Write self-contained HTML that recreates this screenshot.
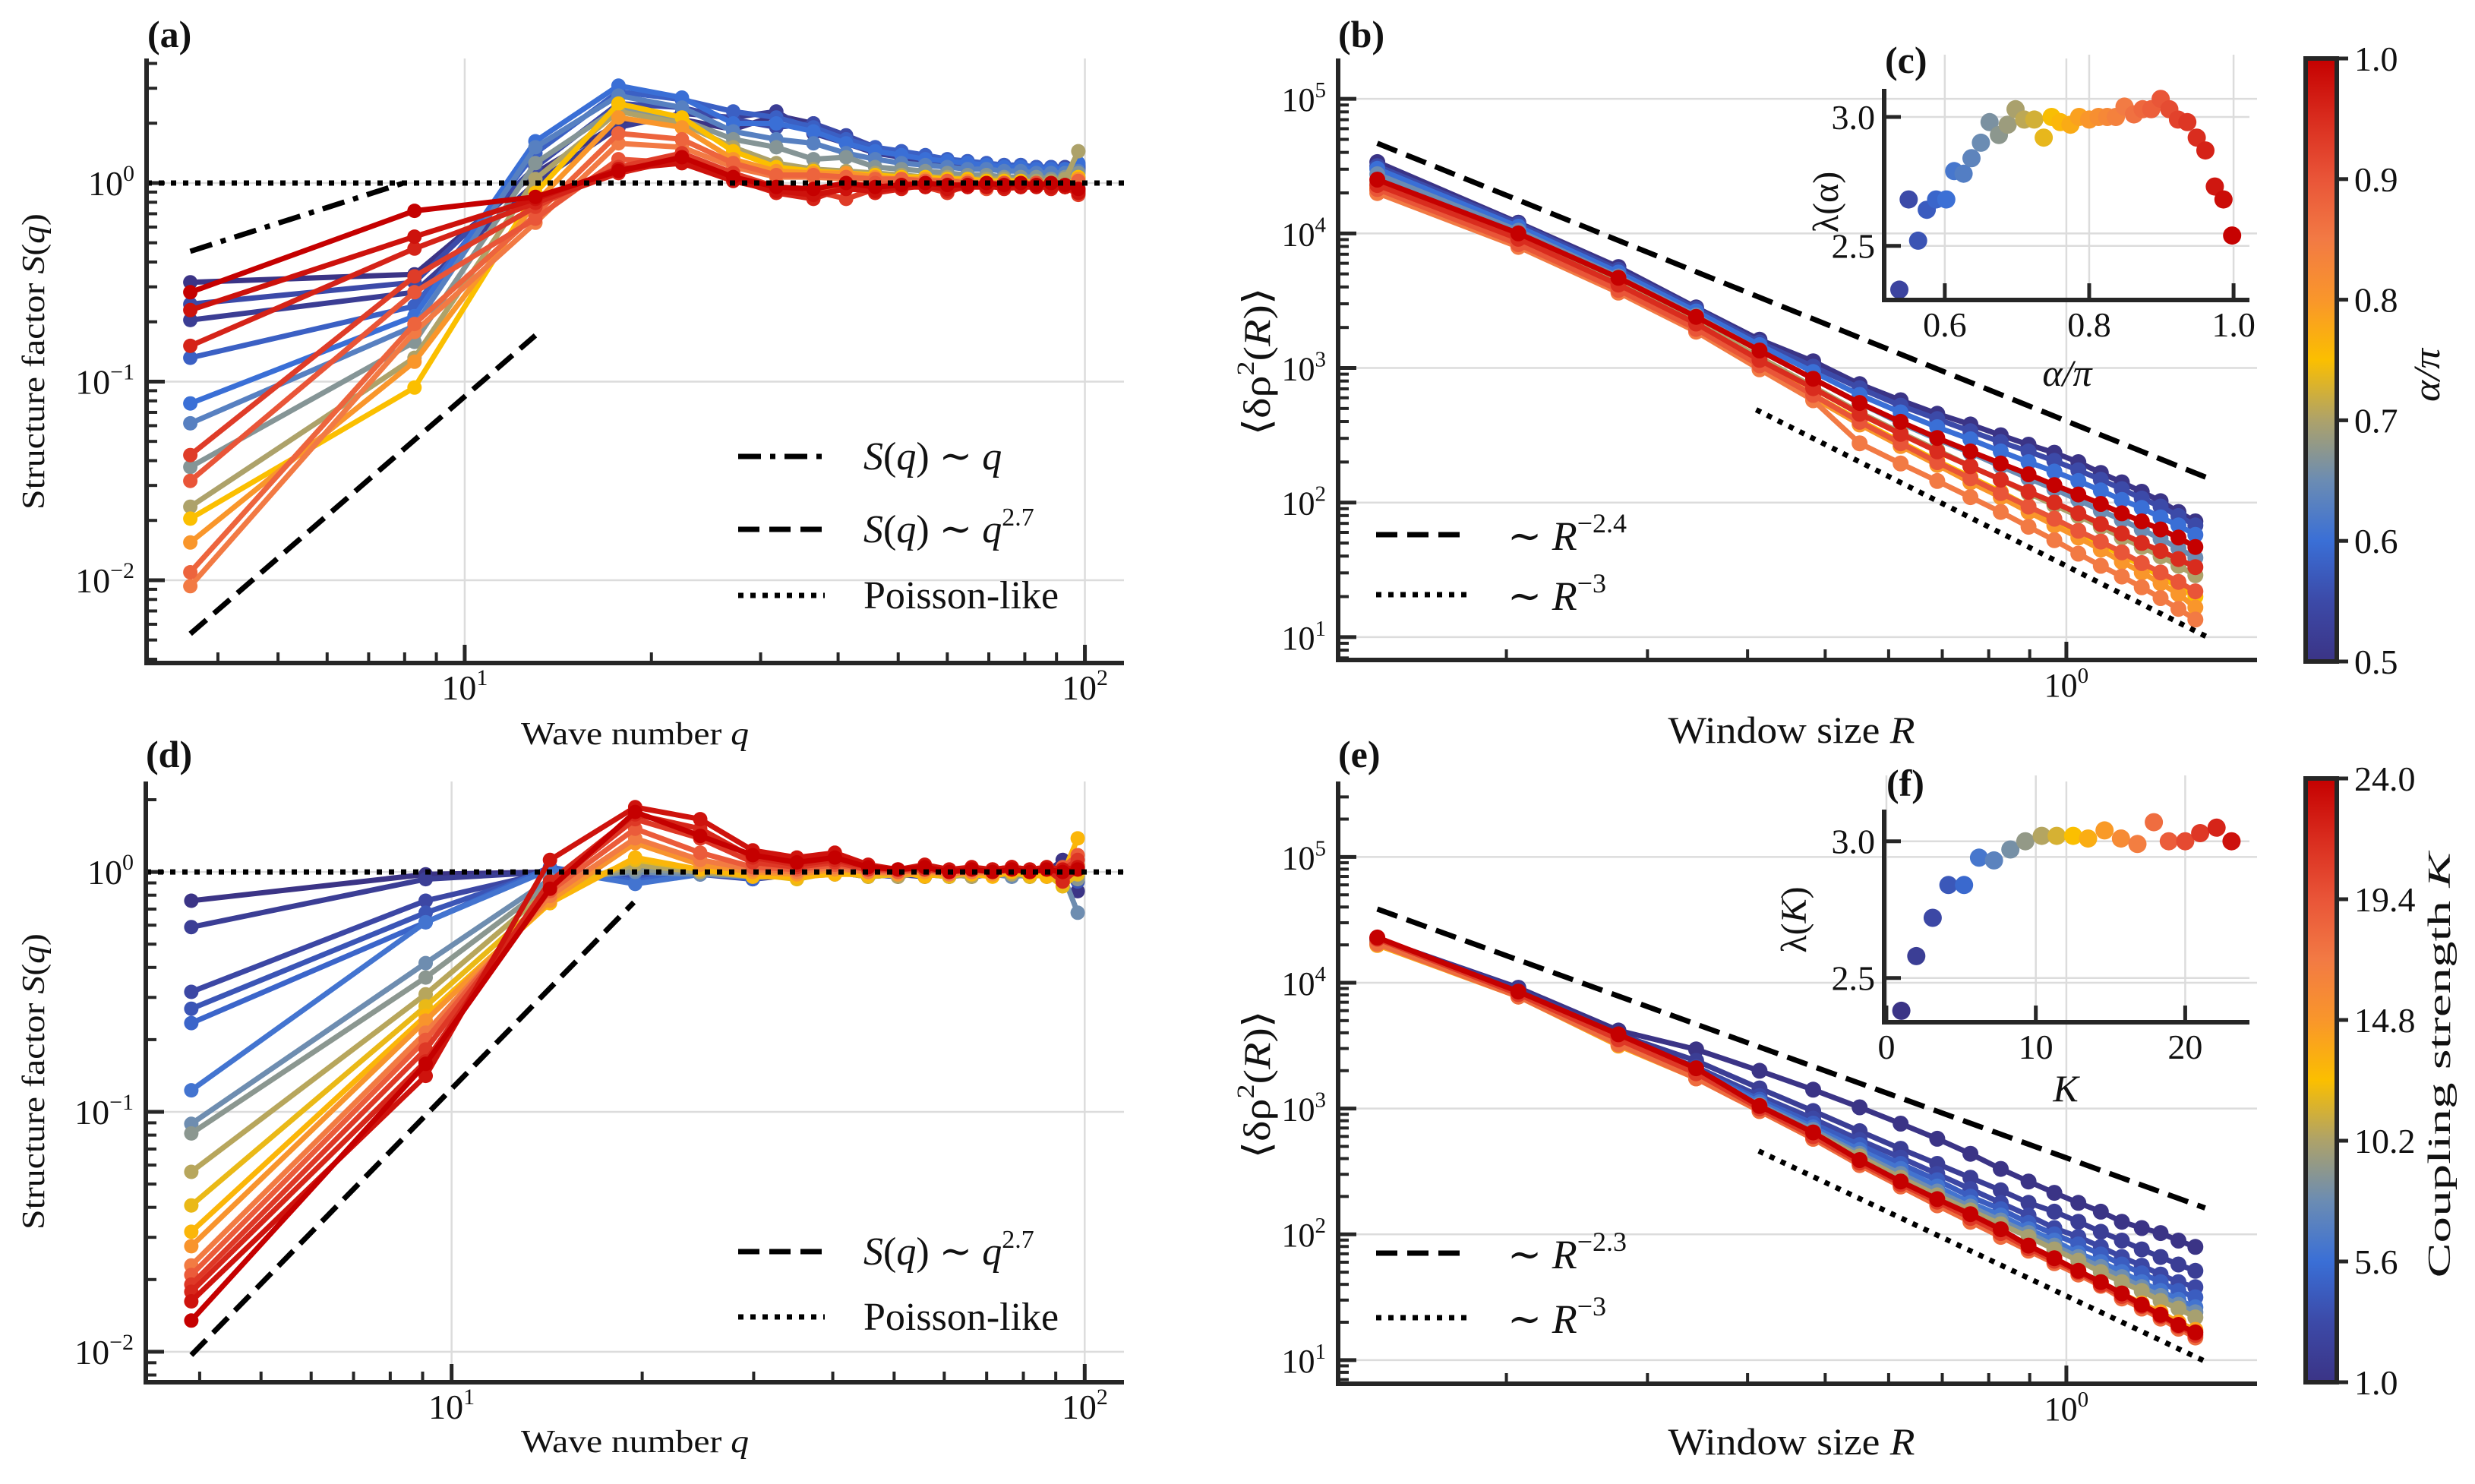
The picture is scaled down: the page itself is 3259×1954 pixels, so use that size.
<!DOCTYPE html>
<html><head><meta charset="utf-8"><title>Structure factor and density variance</title>
<style>
html,body{margin:0;padding:0;background:#fff;}
svg{display:block;font-family:"Liberation Serif","DejaVu Serif",serif;}
</style></head>
<body>
<svg id="fig" width="3259" height="1954" viewBox="0 0 3259 1954" xmlns="http://www.w3.org/2000/svg">
<defs>
<linearGradient id="cbgrad" x1="0" y1="1" x2="0" y2="0">
<stop offset="0" stop-color="#3b3486"/><stop offset="0.1" stop-color="#3c4aa8"/><stop offset="0.2" stop-color="#3a6fd6"/><stop offset="0.3" stop-color="#6b8cb3"/><stop offset="0.4" stop-color="#ada26a"/><stop offset="0.5" stop-color="#fbbf00"/><stop offset="0.6" stop-color="#f9962b"/><stop offset="0.7" stop-color="#f27a44"/><stop offset="0.8" stop-color="#e95538"/><stop offset="0.9" stop-color="#d92c1e"/><stop offset="1" stop-color="#c50000"/>
</linearGradient>
</defs>
</svg>
<script>
// ---------------- DATA ----------------
const qA = [3.61, 8.3, 13.0, 17.7, 22.4, 27.1, 31.8, 36.5, 41.2, 45.9, 50.6, 55.3, 60.0, 64.7, 69.4, 74.1, 78.8, 83.5, 88.2, 92.9, 97.6];
const alphaA = [0.50, 0.52, 0.55, 0.58, 0.60, 0.63, 0.67, 0.70, 0.75, 0.80, 0.85, 0.88, 0.90, 0.93, 0.96, 0.98, 1.00];
const logSA = [
[-0.50,-0.46,0.05,0.30,0.32,0.27,0.34,0.30,0.22,0.17,0.14,0.12,0.10,0.10,0.08,0.09,0.07,0.08,0.06,0.07,0.08],
[-0.69,-0.55,0.00,0.28,0.35,0.33,0.36,0.25,0.20,0.15,0.13,0.10,0.09,0.10,0.07,0.08,0.08,0.06,0.07,0.06,0.07],
[-0.61,-0.50,0.08,0.40,0.38,0.32,0.28,0.30,0.24,0.18,0.15,0.13,0.11,0.10,0.09,0.08,0.09,0.07,0.08,0.08,0.09],
[-0.88,-0.62,0.15,0.46,0.42,0.36,0.33,0.28,0.22,0.18,0.16,0.14,0.12,0.11,0.10,0.09,0.09,0.08,0.08,0.07,0.08],
[-1.11,-0.67,0.21,0.49,0.43,0.30,0.30,0.26,0.20,0.16,0.14,0.12,0.11,0.10,0.09,0.08,0.08,0.07,0.07,0.07,0.10],
[-1.21,-0.72,0.18,0.44,0.38,0.26,0.22,0.20,0.15,0.12,0.10,0.09,0.08,0.07,0.07,0.06,0.06,0.05,0.05,0.05,0.06],
[-1.43,-0.80,0.10,0.38,0.32,0.22,0.18,0.12,0.13,0.08,0.07,0.06,0.05,0.04,0.04,0.03,0.03,0.03,0.02,0.03,0.05],
[-1.63,-0.88,0.02,0.36,0.30,0.18,0.10,0.07,0.06,0.05,0.04,0.03,0.03,0.02,0.02,0.02,0.01,0.01,0.01,0.02,0.16],
[-1.69,-1.03,-0.05,0.40,0.33,0.16,0.08,0.06,0.05,0.04,0.03,0.03,0.02,0.02,0.01,0.01,0.01,0.00,0.00,-0.02,0.03],
[-1.81,-0.90,-0.10,0.33,0.28,0.12,0.06,0.05,0.05,0.03,0.02,0.02,0.01,0.01,0.00,0.00,0.00,-0.01,-0.01,-0.02,0.02],
[-2.03,-0.75,-0.20,0.20,0.18,0.08,0.03,0.03,0.02,0.02,0.01,0.01,0.00,0.00,0.00,-0.01,0.00,-0.01,-0.01,-0.01,-0.03],
[-1.96,-0.71,-0.16,0.25,0.22,0.10,0.04,0.04,0.03,0.02,0.02,0.01,0.01,0.00,0.00,0.00,0.00,0.00,-0.01,-0.02,0.01],
[-1.50,-0.55,-0.18,0.12,0.10,0.02,-0.03,-0.06,-0.02,0.00,-0.01,0.00,-0.02,0.00,-0.03,0.00,-0.01,0.00,-0.02,-0.01,-0.04],
[-1.37,-0.47,-0.12,0.08,0.15,0.05,-0.02,-0.04,-0.08,-0.03,-0.01,-0.02,-0.05,-0.01,-0.02,-0.01,-0.02,-0.01,0.00,-0.02,-0.06],
[-0.82,-0.33,-0.10,0.05,0.12,0.02,-0.05,-0.08,-0.02,-0.05,-0.03,-0.01,-0.04,-0.02,-0.01,-0.03,-0.02,-0.01,-0.03,-0.02,-0.04],
[-0.64,-0.27,-0.08,0.07,0.10,0.01,-0.04,-0.06,-0.03,-0.04,-0.02,-0.02,-0.03,-0.02,-0.02,-0.02,-0.02,-0.02,-0.02,-0.02,-0.05],
[-0.55,-0.14,-0.07,0.06,0.13,0.03,-0.02,-0.03,0.00,-0.02,-0.01,0.00,-0.01,-0.01,0.00,-0.01,0.00,-0.01,0.00,-0.01,-0.03]
];
const windowR = [0.138,0.207,0.276,0.345,0.414,0.483,0.552,0.621,0.690,0.759,0.828,0.897,0.966,1.035,1.104,1.173,1.242,1.311,1.380,1.449];
const alphaB = [0.50, 0.55, 0.60, 0.65, 0.70, 0.75, 0.80, 0.85, 0.90, 0.95, 1.00];
const logVarB = [
[4.53,4.08,3.75,3.45,3.21,3.05,2.88,2.76,2.66,2.58,2.50,2.43,2.37,2.30,2.22,2.15,2.08,2.01,1.93,1.86],
[4.50,4.07,3.73,3.44,3.19,3.01,2.85,2.72,2.62,2.53,2.45,2.38,2.31,2.24,2.17,2.10,2.03,1.97,1.90,1.83],
[4.48,4.05,3.71,3.42,3.17,2.97,2.80,2.67,2.56,2.47,2.38,2.30,2.23,2.16,2.09,2.02,1.96,1.89,1.83,1.76],
[4.44,4.02,3.68,3.39,3.13,2.92,2.74,2.59,2.47,2.37,2.27,2.18,2.10,2.02,1.94,1.87,1.80,1.73,1.66,1.59],
[4.38,3.97,3.63,3.34,3.08,2.86,2.67,2.52,2.39,2.27,2.17,2.07,1.98,1.90,1.82,1.74,1.67,1.60,1.53,1.46],
[4.34,3.93,3.59,3.30,3.03,2.80,2.61,2.45,2.31,2.19,2.08,1.97,1.87,1.78,1.69,1.61,1.53,1.45,1.37,1.30],
[4.32,3.92,3.57,3.28,3.01,2.78,2.58,2.42,2.28,2.15,2.04,1.93,1.83,1.74,1.65,1.56,1.48,1.40,1.32,1.22],
[4.30,3.90,3.56,3.27,2.99,2.76,2.44,2.29,2.16,2.04,1.93,1.82,1.72,1.62,1.53,1.45,1.37,1.29,1.21,1.13],
[4.33,3.92,3.58,3.29,3.02,2.80,2.60,2.44,2.30,2.18,2.07,1.97,1.88,1.79,1.71,1.63,1.55,1.48,1.41,1.34],
[4.36,3.96,3.62,3.33,3.06,2.85,2.66,2.51,2.38,2.27,2.17,2.08,2.00,1.92,1.84,1.77,1.70,1.64,1.58,1.52],
[4.40,4.00,3.67,3.38,3.13,2.92,2.74,2.60,2.48,2.38,2.29,2.21,2.13,2.06,1.99,1.92,1.86,1.80,1.74,1.67]
];
const alphaC = [0.537,0.55,0.563,0.575,0.588,0.602,0.613,0.626,0.637,0.65,0.662,0.675,0.687,0.698,0.71,0.724,0.737,0.748,0.76,0.774,0.786,0.80,0.813,0.825,0.837,0.849,0.862,0.874,0.886,0.899,0.911,0.923,0.936,0.949,0.961,0.974,0.986,0.998];
const lambdaC = [2.33,2.68,2.52,2.64,2.68,2.68,2.79,2.78,2.84,2.90,2.98,2.93,2.97,3.03,2.99,2.99,2.92,3.00,2.98,2.97,3.00,2.99,3.00,3.00,3.00,3.04,3.01,3.03,3.03,3.07,3.03,2.99,2.98,2.92,2.87,2.73,2.68,2.54];
const qD = [3.88, 9.1, 14.3, 19.5, 24.7, 29.9, 35.1, 40.3, 45.5, 50.7, 55.9, 61.1, 66.3, 71.5, 76.7, 81.9, 87.1, 92.3, 97.5];
const couplingD = [1, 2, 3, 4, 5, 6, 8, 9, 10.5, 12, 13, 15, 17, 19, 21, 22, 23, 24];
const logSD = [
[-0.12,-0.01,0.00,-0.01,-0.01,-0.02,0.00,-0.01,0.00,-0.02,0.00,-0.01,-0.01,0.00,-0.01,-0.02,0.00,0.05,-0.08],
[-0.23,-0.03,0.00,-0.02,0.00,-0.03,-0.01,0.00,-0.02,-0.01,-0.02,0.00,-0.02,-0.01,0.00,-0.01,-0.02,-0.01,-0.03],
[-0.50,-0.12,0.00,-0.02,-0.01,-0.03,0.00,0.01,-0.01,-0.02,0.00,-0.02,0.00,-0.01,-0.01,0.00,-0.01,0.01,0.00],
[-0.57,-0.17,0.01,-0.03,0.00,-0.02,-0.01,0.01,-0.01,0.00,-0.02,0.00,-0.01,0.00,-0.02,-0.01,0.00,-0.02,-0.04],
[-0.63,-0.21,0.02,-0.04,0.00,-0.03,0.00,0.00,-0.02,-0.01,-0.01,-0.02,0.00,-0.01,0.00,-0.01,-0.01,0.00,-0.02],
[-0.91,-0.21,0.01,-0.05,-0.01,-0.01,-0.01,0.02,0.00,-0.01,0.00,-0.01,-0.02,0.00,-0.01,0.00,0.00,-0.02,0.00],
[-1.05,-0.38,-0.03,0.00,-0.01,-0.02,-0.01,0.02,-0.01,0.00,-0.01,-0.01,0.00,-0.01,-0.02,0.00,0.01,-0.01,-0.17],
[-1.09,-0.44,-0.05,0.01,0.00,-0.01,-0.02,0.00,-0.01,0.00,0.00,-0.02,-0.01,0.00,-0.01,-0.02,0.00,0.00,-0.03],
[-1.25,-0.51,-0.07,0.03,0.00,-0.02,-0.02,-0.01,0.00,-0.02,0.00,-0.01,-0.02,0.00,-0.01,-0.01,0.00,-0.02,0.00],
[-1.39,-0.56,-0.10,0.05,0.01,-0.01,-0.03,0.00,-0.02,-0.01,-0.01,-0.02,0.00,-0.01,0.00,-0.02,-0.01,-0.06,-0.01],
[-1.50,-0.60,-0.13,0.06,0.01,-0.02,-0.02,-0.01,-0.01,0.00,-0.02,0.00,-0.01,-0.02,0.00,-0.01,-0.02,-0.01,0.14],
[-1.56,-0.62,-0.12,0.12,0.03,0.00,-0.01,0.01,0.00,-0.01,0.00,-0.01,0.00,-0.01,0.01,0.00,0.01,-0.02,0.03],
[-1.64,-0.67,-0.10,0.14,0.05,0.01,0.00,0.02,0.00,0.00,0.01,-0.01,0.00,0.00,0.01,0.00,0.02,0.00,0.02],
[-1.68,-0.70,-0.08,0.18,0.08,0.02,0.01,0.03,0.01,0.00,0.01,0.00,0.01,0.00,0.02,0.00,0.01,0.02,0.07],
[-1.72,-0.74,-0.06,0.22,0.14,0.04,0.02,0.04,0.01,0.01,0.01,0.00,0.01,0.01,0.01,0.00,0.01,0.01,0.05],
[-1.75,-0.79,-0.04,0.24,0.18,0.06,0.03,0.05,0.02,0.01,0.02,0.00,0.01,0.01,0.02,0.01,0.01,-0.04,0.01],
[-1.79,-0.85,0.05,0.27,0.22,0.09,0.06,0.08,0.03,0.01,0.03,0.01,0.02,0.01,0.02,0.01,0.02,0.01,0.02],
[-1.87,-0.80,-0.07,0.25,0.15,0.07,0.04,0.06,0.02,0.01,0.02,0.00,0.01,0.00,0.01,0.00,0.01,0.00,0.01]
];
const couplingE = [1, 2, 3, 4.5, 6, 8, 10, 14, 18, 21, 24];
const logVarE = [
[4.35,3.96,3.62,3.47,3.30,3.15,3.01,2.88,2.76,2.64,2.52,2.42,2.33,2.25,2.18,2.10,2.05,2.01,1.95,1.90],
[4.35,3.95,3.59,3.38,3.16,2.98,2.82,2.68,2.56,2.45,2.35,2.25,2.18,2.10,2.02,1.95,1.88,1.82,1.76,1.71],
[4.34,3.93,3.56,3.33,3.10,2.92,2.75,2.61,2.48,2.36,2.25,2.15,2.05,1.98,1.90,1.82,1.75,1.68,1.62,1.58],
[4.34,3.92,3.55,3.31,3.07,2.88,2.71,2.56,2.43,2.30,2.20,2.09,2.00,1.92,1.84,1.76,1.69,1.62,1.55,1.50],
[4.33,3.92,3.55,3.30,3.05,2.85,2.67,2.52,2.38,2.25,2.15,2.04,1.95,1.85,1.78,1.70,1.62,1.55,1.48,1.42],
[4.33,3.91,3.54,3.28,3.03,2.83,2.64,2.48,2.34,2.22,2.11,2.01,1.91,1.82,1.74,1.66,1.58,1.51,1.44,1.38],
[4.32,3.91,3.53,3.27,3.02,2.81,2.62,2.45,2.31,2.19,2.08,1.98,1.88,1.79,1.70,1.62,1.55,1.47,1.41,1.34],
[4.30,3.89,3.50,3.24,2.98,2.76,2.56,2.39,2.25,2.13,2.01,1.90,1.81,1.71,1.62,1.53,1.45,1.38,1.30,1.24],
[4.31,3.89,3.51,3.24,2.98,2.76,2.55,2.38,2.23,2.10,1.98,1.87,1.77,1.68,1.59,1.49,1.41,1.33,1.25,1.18],
[4.35,3.91,3.55,3.28,3.00,2.78,2.57,2.40,2.26,2.13,2.01,1.89,1.79,1.70,1.60,1.51,1.43,1.35,1.27,1.20],
[4.36,3.93,3.59,3.32,3.02,2.81,2.59,2.42,2.28,2.16,2.04,1.91,1.81,1.71,1.62,1.53,1.44,1.36,1.28,1.22]
];
const couplingF = [1.0,2.0,3.1,4.15,5.2,6.2,7.2,8.3,9.3,10.4,11.4,12.5,13.5,14.6,15.7,16.8,17.9,18.9,20.0,21.0,22.1,23.1];
const lambdaF = [2.38,2.58,2.72,2.84,2.84,2.94,2.93,2.97,3.00,3.02,3.02,3.02,3.01,3.04,3.01,2.99,3.07,3.00,3.00,3.03,3.05,3.00];
const cbTicksAlpha = ["0.5","0.6","0.7","0.8","0.9","1.0"];
const cbTicksK = ["1.0","5.6","10.2","14.8","19.4","24.0"];

// ---------------- HELPERS ----------------
const NS = 'http://www.w3.org/2000/svg';
const svg = document.getElementById('fig');
const STOPS = [[0,[0x3b,0x34,0x86]],[0.1,[0x3c,0x4a,0xa8]],[0.2,[0x3a,0x6f,0xd6]],[0.3,[0x6b,0x8c,0xb3]],[0.4,[0xad,0xa2,0x6a]],[0.5,[0xfb,0xbf,0x00]],[0.6,[0xf9,0x96,0x2b]],[0.7,[0xf2,0x7a,0x44]],[0.8,[0xe9,0x55,0x38]],[0.9,[0xd9,0x2c,0x1e]],[1,[0xc5,0x00,0x00]]];
function cmap(t){
  t = Math.max(0, Math.min(1, t));
  for (let i = 1; i < STOPS.length; i++) {
    if (t <= STOPS[i][0]) {
      const a = STOPS[i-1], b = STOPS[i];
      const f = (t - a[0]) / (b[0] - a[0]);
      const c = a[1].map((v, j) => Math.round(v + (b[1][j] - v) * f));
      return 'rgb(' + c.join(',') + ')';
    }
  }
  return 'rgb(197,0,0)';
}
function node(parent, tag, attrs){
  const e = document.createElementNS(NS, tag);
  for (const k in attrs) e.setAttribute(k, attrs[k]);
  parent.appendChild(e);
  return e;
}
function group(parent, name){
  const g = node(parent, 'g', {});
  
  
  return g;
}
function axis(ax){
  return {
    X: v => ax.x0 + (v - ax.xmin) / (ax.xmax - ax.xmin) * (ax.x1 - ax.x0),
    Y: v => ax.y1 - (v - ax.ymin) / (ax.ymax - ax.ymin) * (ax.y1 - ax.y0)
  };
}
function richText(parent, x, y, parts, size, opts, name){
  const t = node(parent, 'text', {x: x, y: y, 'font-size': size, fill: '#111'});
  
  
  if (opts.anchor) t.setAttribute('text-anchor', opts.anchor);
  if (opts.weight) t.setAttribute('font-weight', opts.weight);
  if (opts.rotate) t.setAttribute('transform', 'rotate(-90 ' + x + ' ' + y + ')');
  if (opts.len) { t.setAttribute('textLength', opts.len); t.setAttribute('lengthAdjust', 'spacingAndGlyphs'); }
  let raised = false;
  parts.forEach(p => {
    const s = node(t, 'tspan', {});
    s.textContent = p[0];
    const st = p[1] || '';
    if (st.indexOf('i') >= 0) s.setAttribute('font-style', 'italic');
    if (st.indexOf('sup') === 0) {
      s.setAttribute('font-size', Math.round(size * 0.66));
      if (!raised) { s.setAttribute('dy', -Math.round(size * 0.42)); raised = true; }
    } else if (raised) {
      s.setAttribute('dy', Math.round(size * 0.42)); raised = false;
    }
  });
  return t;
}
function polyline(parent, pts, attrs, name){
  const p = node(parent, 'polyline', Object.assign({points: pts.map(a => a[0].toFixed(1) + ',' + a[1].toFixed(1)).join(' '), fill: 'none'}, attrs));
  
  
  return p;
}
function seg(parent, x1, y1, x2, y2, attrs, name){
  const l = node(parent, 'line', Object.assign({x1: x1, y1: y1, x2: x2, y2: y2}, attrs));
  
  
  return l;
}
const SPINE = '#262626';
function logFrame(g, ax, xLabels, yLabels, lsize){
  const m = axis(ax);
  const gg = group(g, 'grid');
  const tk = group(g, 'ticks');
  for (let d = Math.floor(ax.xmin); d <= Math.ceil(ax.xmax); d++) {
    for (let k = 1; k <= 9; k++) {
      const v = d + Math.log10(k);
      if (v < ax.xmin || v > ax.xmax) continue;
      const x = m.X(v);
      if (k === 1) {
        seg(gg, x, ax.y0, x, ax.y1, {stroke: '#dcdcdc', 'stroke-width': 2.5}, 'x-grid-line');
        seg(tk, x, ax.y1, x, ax.y1 - 24, {stroke: SPINE, 'stroke-width': 5}, 'x-major-tick');
        if (xLabels) richText(tk, x, ax.y1 + 48, [['10',''], [String(d).replace('-', '\u2212'), 'sup']], lsize, {anchor: 'middle'}, 'x-tick-label');
      } else {
        seg(tk, x, ax.y1, x, ax.y1 - 14, {stroke: SPINE, 'stroke-width': 4}, 'x-minor-tick');
      }
    }
  }
  for (let d = Math.floor(ax.ymin); d <= Math.ceil(ax.ymax); d++) {
    for (let k = 1; k <= 9; k++) {
      const v = d + Math.log10(k);
      if (v < ax.ymin || v > ax.ymax) continue;
      const y = m.Y(v);
      if (k === 1) {
        seg(gg, ax.x0, y, ax.x1, y, {stroke: '#dcdcdc', 'stroke-width': 2.5}, 'y-grid-line');
        seg(tk, ax.x0, y, ax.x0 + 24, y, {stroke: SPINE, 'stroke-width': 5}, 'y-major-tick');
        if (yLabels) richText(tk, ax.x0 - 16, y + 16, [['10',''], [String(d).replace('-', '\u2212'), 'sup']], lsize, {anchor: 'end'}, 'y-tick-label');
      } else {
        seg(tk, ax.x0, y, ax.x0 + 14, y, {stroke: SPINE, 'stroke-width': 4}, 'y-minor-tick');
      }
    }
  }
  return {m: m, grid: gg, ticks: tk};
}
function spines(g, ax){
  seg(g, ax.x0, ax.y0, ax.x0, ax.y1 + 3, {stroke: SPINE, 'stroke-width': 6}, 'y-axis-spine');
  seg(g, ax.x0 - 3, ax.y1, ax.x1, ax.y1, {stroke: SPINE, 'stroke-width': 6}, 'x-axis-spine');
}
function series(g, xs, ys, color, lw, r, name){
  const s = group(g, name);
  const pts = xs.map((x, i) => [x, ys[i]]);
  polyline(s, pts, {stroke: color, 'stroke-width': lw, 'stroke-linejoin': 'round'}, 'series-line');
  pts.forEach(p => {
    const c = node(s, 'circle', {cx: p[0].toFixed(1), cy: p[1].toFixed(1), r: r, fill: color});
    
    
  });
}
const DASH = {'stroke-dasharray': '28 13'};
const DOT = {'stroke-dasharray': '7 9'};
const DASHDOT = {'stroke-dasharray': '30 12 7 12'};

// ---------------- PANEL (a) ----------------
(function(){
  const ax = {x0: 193, x1: 1480, y0: 77, y1: 873, xmin: 0.487, xmax: 2.063, ymin: -2.417, ymax: 0.627};
  const g = group(svg, 'panel-a');
  const f = logFrame(g, ax, true, true, 46);
  const m = f.m;
  const cg = group(g, 'structure-factor-curves');
  logSA.forEach((row, i) => {
    series(cg, qA.map(q => m.X(Math.log10(q))), row.map(v => m.Y(v)), cmap((alphaA[i] - 0.5) / 0.5), 7, 9.5, 'curve-alpha-' + alphaA[i]);
  });
  const rg = group(g, 'reference-lines');
  seg(rg, ax.x0, m.Y(0), ax.x1, m.Y(0), Object.assign({stroke: '#000', 'stroke-width': 7}, DOT), 'poisson-line');
  const ddq0 = 3.61, ddq1 = 8.08, ddS0 = -0.344;
  seg(rg, m.X(Math.log10(ddq0)), m.Y(ddS0), m.X(Math.log10(ddq1)), m.Y(ddS0 + 1 * Math.log10(ddq1 / ddq0)), Object.assign({stroke: '#000', 'stroke-width': 7}, DASHDOT), 'linear-guide-line');
  const dq0 = 3.61, dq1 = 13.0, dS0 = -2.27;
  seg(rg, m.X(Math.log10(dq0)), m.Y(dS0), m.X(Math.log10(dq1)), m.Y(dS0 + 2.7 * Math.log10(dq1 / dq0)), Object.assign({stroke: '#000', 'stroke-width': 7}, DASH), 'power-guide-line');
  spines(g, ax);
  richText(g, 194, 62, [['(a)','']], 50, {weight: 'bold'}, 'panel-label-a');
  richText(g, 58, 476, [['Structure factor ',''], ['S','i'], ['(',''], ['q','i'], [')','']], 42, {anchor: 'middle', rotate: true, len: 390}, 'y-axis-title');
  richText(g, 836, 980, [['Wave number ',''], ['q','i']], 42, {anchor: 'middle', len: 300}, 'x-axis-title');
  const lg = group(g, 'legend');
  seg(lg, 972, 601, 1086, 601, Object.assign({stroke: '#000', 'stroke-width': 7}, DASHDOT), 'legend-line-linear');
  richText(lg, 1137, 618, [['S','i'], ['(',''], ['q','i'], [') \u223C ',''], ['q','i']], 52, {}, 'legend-entry-linear');
  seg(lg, 972, 697, 1086, 697, Object.assign({stroke: '#000', 'stroke-width': 7}, DASH), 'legend-line-power');
  richText(lg, 1137, 714, [['S','i'], ['(',''], ['q','i'], [') \u223C ',''], ['q','i'], ['2.7','sup']], 52, {}, 'legend-entry-power');
  seg(lg, 972, 784, 1086, 784, Object.assign({stroke: '#000', 'stroke-width': 7}, DOT), 'legend-line-poisson');
  richText(lg, 1137, 801, [['Poisson-like','']], 52, {}, 'legend-entry-poisson');
})();

// ---------------- PANEL (d) ----------------
(function(){
  const ax = {x0: 192, x1: 1480, y0: 1029, y1: 1820, xmin: 0.517, xmax: 2.062, ymin: -2.127, ymax: 0.377};
  const g = group(svg, 'panel-d');
  const f = logFrame(g, ax, true, true, 46);
  const m = f.m;
  const cg = group(g, 'structure-factor-curves');
  logSD.forEach((row, i) => {
    series(cg, qD.map(q => m.X(Math.log10(q))), row.map(v => m.Y(v)), cmap((couplingD[i] - 1) / 23), 7, 9.5, 'curve-k-' + couplingD[i]);
  });
  const rg = group(g, 'reference-lines');
  seg(rg, ax.x0, m.Y(0), ax.x1, m.Y(0), Object.assign({stroke: '#000', 'stroke-width': 7}, DOT), 'poisson-line');
  const dq0 = 3.88, dq1 = 19.4, dS0 = -2.014;
  seg(rg, m.X(Math.log10(dq0)), m.Y(dS0), m.X(Math.log10(dq1)), m.Y(dS0 + 2.7 * Math.log10(dq1 / dq0)), Object.assign({stroke: '#000', 'stroke-width': 7}, DASH), 'power-guide-line');
  spines(g, ax);
  richText(g, 192, 1010, [['(d)','']], 50, {weight: 'bold'}, 'panel-label-d');
  richText(g, 58, 1424, [['Structure factor ',''], ['S','i'], ['(',''], ['q','i'], [')','']], 42, {anchor: 'middle', rotate: true, len: 390}, 'y-axis-title');
  richText(g, 836, 1912, [['Wave number ',''], ['q','i']], 42, {anchor: 'middle', len: 300}, 'x-axis-title');
  const lg = group(g, 'legend');
  seg(lg, 972, 1648, 1086, 1648, Object.assign({stroke: '#000', 'stroke-width': 7}, DASH), 'legend-line-power');
  richText(lg, 1137, 1665, [['S','i'], ['(',''], ['q','i'], [') \u223C ',''], ['q','i'], ['2.7','sup']], 52, {}, 'legend-entry-power');
  seg(lg, 972, 1734, 1086, 1734, Object.assign({stroke: '#000', 'stroke-width': 7}, DOT), 'legend-line-poisson');
  richText(lg, 1137, 1751, [['Poisson-like','']], 52, {}, 'legend-entry-poisson');
})();

// ---------------- PANELS (b) and (e) ----------------
function variancePanel(cfg){
  const ax = cfg.ax;
  const g = group(svg, cfg.name);
  const f = logFrame(g, ax, true, true, 44);
  const m = f.m;
  const cg = group(g, 'variance-curves');
  cfg.data.forEach((row, i) => {
    series(cg, windowR.map(r => m.X(Math.log10(r))), row.map(v => m.Y(v)), cmap(cfg.tval(i)), 7, 10.5, 'curve-' + i);
  });
  const rg = group(g, 'reference-lines');
  const d = cfg.dash, o = cfg.dot;
  seg(rg, m.X(Math.log10(d.r0)), m.Y(d.v0), m.X(Math.log10(d.r1)), m.Y(d.v0 - d.slope * Math.log10(d.r1 / d.r0)), Object.assign({stroke: '#000', 'stroke-width': 7}, DASH), 'hyperuniform-guide-line');
  seg(rg, m.X(Math.log10(o.r0)), m.Y(o.v0), m.X(Math.log10(o.r1)), m.Y(o.v0 - o.slope * Math.log10(o.r1 / o.r0)), Object.assign({stroke: '#000', 'stroke-width': 7}, DOT), 'cubic-guide-line');
  spines(g, ax);
  richText(g, 1762, cfg.labelY, [[cfg.label,'']], 50, {weight: 'bold'}, 'panel-label');
  richText(g, 1672, cfg.titleY, [['\u27E8\u03B4\u03C1',''], ['2','sup'], ['(',''], ['R','i'], [')\u27E9','']], 50, {anchor: 'middle', rotate: true, len: 195}, 'y-axis-title');
  richText(g, 2359, cfg.xTitleY, [['Window size ',''], ['R','i']], 50, {anchor: 'middle', len: 325}, 'x-axis-title');
  const lg = group(g, 'legend');
  seg(lg, 1812, cfg.legY[0], 1933, cfg.legY[0], Object.assign({stroke: '#000', 'stroke-width': 7}, DASH), 'legend-line-dashed');
  richText(lg, 1985, cfg.legY[0] + 20, [['\u223C ',''], ['R','i'], [cfg.expo,'sup']], 54, {}, 'legend-entry-dashed');
  seg(lg, 1812, cfg.legY[1], 1933, cfg.legY[1], Object.assign({stroke: '#000', 'stroke-width': 7}, DOT), 'legend-line-dotted');
  richText(lg, 1985, cfg.legY[1] + 20, [['\u223C ',''], ['R','i'], ['\u22123','sup']], 54, {}, 'legend-entry-dotted');
}
variancePanel({name: 'panel-b', label: '(b)', labelY: 62, titleY: 476, xTitleY: 978,
  ax: {x0: 1762, x1: 2972, y0: 77, y1: 869, xmin: -0.909, xmax: 0.238, ymin: 0.83, ymax: 5.30},
  data: logVarB, tval: i => (alphaB[i] - 0.5) / 0.5,
  dash: {r0: 0.138, r1: 1.5, v0: 4.67, slope: 2.4}, dot: {r0: 0.41, r1: 1.5, v0: 2.69, slope: 3},
  legY: [704, 783], expo: '\u22122.4'});
variancePanel({name: 'panel-e', label: '(e)', labelY: 1010, titleY: 1428, xTitleY: 1915,
  ax: {x0: 1762, x1: 2972, y0: 1029, y1: 1822, xmin: -0.909, xmax: 0.238, ymin: 0.812, ymax: 5.60},
  data: logVarE, tval: i => (couplingE[i] - 1) / 23,
  dash: {r0: 0.138, r1: 1.49, v0: 4.586, slope: 2.3}, dot: {r0: 0.413, r1: 1.49, v0: 2.662, slope: 3},
  legY: [1650, 1735], expo: '\u22122.3'});

// ---------------- INSETS (c) and (f) ----------------
function inset(cfg){
  const ax = cfg.ax;
  const g = group(svg, cfg.name);
  const m = axis(ax);
  const gg = group(g, 'grid');
  cfg.xt.forEach(v => seg(gg, m.X(v), ax.y0 - 45, m.X(v), ax.y1, {stroke: '#dcdcdc', 'stroke-width': 2.5}, 'x-grid-line'));
  cfg.yt.forEach(v => seg(gg, ax.x0, m.Y(v), ax.x1, m.Y(v), {stroke: '#dcdcdc', 'stroke-width': 2.5}, 'y-grid-line'));
  const pg = group(g, 'scatter-points');
  cfg.xs.forEach((x, i) => {
    const c = node(pg, 'circle', {cx: m.X(x).toFixed(1), cy: m.Y(cfg.ys[i]).toFixed(1), r: 12, fill: cmap(cfg.tval(x))});
    
    
  });
  seg(g, ax.x0, ax.y0, ax.x0, ax.y1 + 3, {stroke: SPINE, 'stroke-width': 6}, 'y-axis-spine');
  seg(g, ax.x0 - 3, ax.y1, ax.x1, ax.y1, {stroke: SPINE, 'stroke-width': 6}, 'x-axis-spine');
  const tk = group(g, 'ticks');
  cfg.xt.forEach((v, i) => {
    seg(tk, m.X(v), ax.y1, m.X(v), ax.y1 - 22, {stroke: SPINE, 'stroke-width': 5}, 'x-tick');
    richText(tk, m.X(v), ax.y1 + 48, [[cfg.xtl[i],'']], 46, {anchor: 'middle'}, 'x-tick-label');
  });
  cfg.yt.forEach((v, i) => {
    seg(tk, ax.x0, m.Y(v), ax.x0 + 22, m.Y(v), {stroke: SPINE, 'stroke-width': 5}, 'y-tick');
    richText(tk, ax.x0 - 12, m.Y(v) + 16, [[cfg.ytl[i],'']], 46, {anchor: 'end'}, 'y-tick-label');
  });
  richText(g, cfg.lx, cfg.ly, [[cfg.label,'']], 50, {weight: 'bold'}, 'panel-label');
  richText(g, cfg.ytx, cfg.yty, cfg.ytitle, 48, {anchor: 'middle', rotate: true}, 'y-axis-title');
  richText(g, cfg.xtx, cfg.xty, cfg.xtitle, 50, {anchor: 'middle'}, 'x-axis-title');
}
inset({name: 'inset-c', label: '(c)', lx: 2482, ly: 96,
  ax: {x0: 2481, x1: 2962, y0: 117, y1: 395, xmin: 0.516, xmax: 1.022, ymin: 2.29, ymax: 3.109},
  xs: alphaC, ys: lambdaC, tval: x => (x - 0.5) / 0.5,
  xt: [0.6, 0.8, 1.0], xtl: ['0.6', '0.8', '1.0'], yt: [2.5, 3.0], ytl: ['2.5', '3.0'],
  ytx: 2420, yty: 266, ytitle: [['\u03BB(\u03B1)','']], xtx: 2722, xty: 508, xtitle: [['\u03B1/\u03C0','i']]});
inset({name: 'inset-f', label: '(f)', lx: 2484, ly: 1048,
  ax: {x0: 2481, x1: 2962, y0: 1066, y1: 1346, xmin: -0.15, xmax: 24.3, ymin: 2.338, ymax: 3.116},
  xs: couplingF, ys: lambdaF, tval: k => (k - 1) / 23,
  xt: [0, 10, 20], xtl: ['0', '10', '20'], yt: [2.5, 3.0], ytl: ['2.5', '3.0'],
  ytx: 2378, yty: 1211, ytitle: [['\u03BB(',''], ['K','i'], [')','']], xtx: 2720, xty: 1450, xtitle: [['K','i']]});

// ---------------- COLORBARS ----------------
function colorbar(cfg){
  const g = group(svg, cfg.name);
  const r = node(g, 'rect', {x: 3036, y: cfg.y0, width: 41, height: cfg.y1 - cfg.y0, fill: 'url(#cbgrad)', stroke: SPINE, 'stroke-width': 6});
  
  
  cfg.labels.forEach((lab, i) => {
    const y = cfg.y1 - i * (cfg.y1 - cfg.y0) / (cfg.labels.length - 1);
    seg(g, 3077, y, 3092, y, {stroke: SPINE, 'stroke-width': 5}, 'colorbar-tick');
    richText(g, 3100, y + 16, [[lab,'']], 46, {}, 'colorbar-tick-label');
  });
  richText(g, cfg.tx, (cfg.y0 + cfg.y1) / 2 + cfg.dy, cfg.title, cfg.ts, {anchor: 'middle', rotate: true, len: cfg.tl}, 'colorbar-title');
}
colorbar({name: 'colorbar-alpha', y0: 77, y1: 871, labels: cbTicksAlpha, tx: 3212, dy: 20, ts: 50, tl: 70, title: [['\u03B1/\u03C0','i']]});
colorbar({name: 'colorbar-coupling', y0: 1025, y1: 1820, labels: cbTicksK, tx: 3226, dy: -20, ts: 42, tl: 560, title: [['Coupling strength ',''], ['K','i']]});
</script>
</body></html>
